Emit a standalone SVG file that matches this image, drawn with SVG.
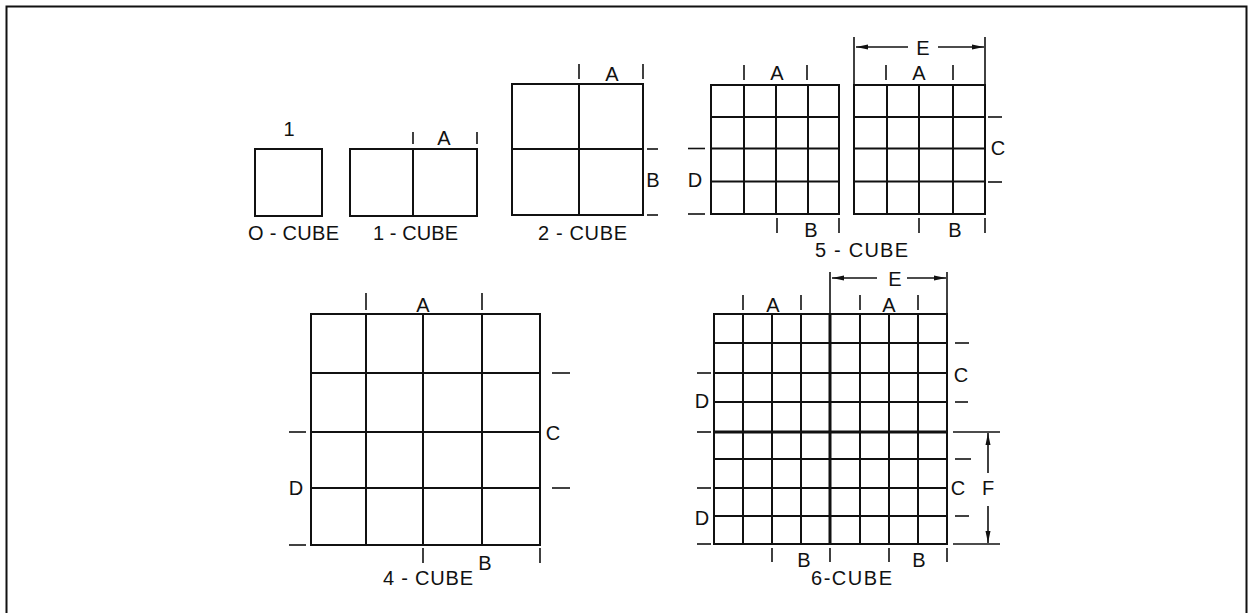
<svg xmlns="http://www.w3.org/2000/svg" width="1248" height="613" viewBox="0 0 1248 613">
<style>
.g{fill:none;stroke:#111;stroke-width:2}
.t{stroke:#111;stroke-width:1.6;fill:none}
.k{stroke:#111;stroke-width:3;fill:none}
text{font-family:"Liberation Sans",Arial,sans-serif;font-size:20px;fill:#111;text-anchor:middle}
</style>
<defs>
<marker id="ah" viewBox="0 0 12 6" refX="12" refY="3" markerWidth="12" markerHeight="6" markerUnits="userSpaceOnUse" orient="auto">
<path d="M0,0.5 L12,3 L0,5.5 z" fill="#111"/>
</marker>
</defs>
<rect width="1248" height="613" fill="#fff"/>
<path d="M6.5,613 V6.5 H1246.5 V613" fill="none" stroke="#111" stroke-width="2"/>

<g id="cube0">
<rect class="g" x="255" y="149" width="67" height="67"/>
<text x="289" y="136">1</text>
<text x="293.5" y="240" textLength="91" lengthAdjust="spacing">O - CUBE</text>
</g>

<g id="cube1">
<rect class="g" x="350" y="149" width="127" height="67"/>
<line class="g" x1="413" y1="149" x2="413" y2="216"/>
<line class="t" x1="413" y1="132" x2="413" y2="144"/>
<line class="t" x1="477" y1="132" x2="477" y2="144"/>
<text x="444" y="145">A</text>
<text x="415.5" y="240" textLength="85" lengthAdjust="spacing">1 - CUBE</text>
</g>

<g id="cube2">
<rect class="g" x="512" y="84" width="131" height="131"/>
<line class="g" x1="579" y1="84" x2="579" y2="215"/>
<line class="g" x1="512" y1="149" x2="643" y2="149"/>
<line class="t" x1="579" y1="64" x2="579" y2="79"/>
<line class="t" x1="643" y1="64" x2="643" y2="79"/>
<text x="612" y="81">A</text>
<line class="t" x1="647" y1="149" x2="658" y2="149"/>
<line class="t" x1="647" y1="215" x2="658" y2="215"/>
<text x="653" y="187">B</text>
<text x="582.5" y="240" textLength="89" lengthAdjust="spacing">2 - CUBE</text>
</g>

<g id="cube5">
<rect class="g" x="711" y="85" width="128" height="129"/>
<path class="g" d="M744,85V214 M776,85V214 M808,85V214 M711,117H839 M711,148.5H839 M711,181.5H839"/>
<line class="t" x1="744" y1="65" x2="744" y2="80"/>
<line class="t" x1="807" y1="65" x2="807" y2="80"/>
<text x="777" y="80">A</text>
<line class="t" x1="688" y1="148.5" x2="705" y2="148.5"/>
<line class="t" x1="688" y1="214" x2="705" y2="214"/>
<text x="695" y="187">D</text>
<line class="t" x1="777" y1="218" x2="777" y2="233"/>
<line class="t" x1="839" y1="218" x2="839" y2="233"/>
<text x="811" y="237">B</text>

<rect class="g" x="854" y="85" width="131" height="129"/>
<path class="g" d="M887,85V214 M919,85V214 M953,85V214 M854,117H985 M854,148.5H985 M854,181.5H985"/>
<line class="t" x1="886" y1="65" x2="886" y2="80"/>
<line class="t" x1="953" y1="65" x2="953" y2="80"/>
<text x="919" y="80">A</text>
<line class="t" x1="988" y1="117" x2="1002" y2="117"/>
<line class="t" x1="988" y1="182" x2="1002" y2="182"/>
<text x="998" y="155">C</text>
<line class="t" x1="919" y1="218" x2="919" y2="233"/>
<line class="t" x1="985" y1="218" x2="985" y2="233"/>
<text x="955" y="237">B</text>
<line class="t" x1="854" y1="37" x2="854" y2="85"/>
<line class="t" x1="985" y1="37" x2="985" y2="85"/>
<text x="923" y="55">E</text>
<text x="861.5" y="257" textLength="93" lengthAdjust="spacing">5 - CUBE</text>
</g>

<g id="cube4">
<rect class="g" x="311" y="314" width="229" height="231"/>
<path class="g" d="M366,314V545 M423,314V545 M482,314V545 M311,373H540 M311,432H540 M311,488H540"/>
<line class="t" x1="366" y1="293" x2="366" y2="310"/>
<line class="t" x1="482" y1="293" x2="482" y2="310"/>
<text x="423" y="312">A</text>
<line class="t" x1="552" y1="373" x2="570" y2="373"/>
<line class="t" x1="552" y1="488" x2="570" y2="488"/>
<text x="553" y="440">C</text>
<line class="t" x1="289" y1="432" x2="306" y2="432"/>
<line class="t" x1="289" y1="545" x2="306" y2="545"/>
<text x="296" y="495">D</text>
<line class="t" x1="423" y1="548" x2="423" y2="563"/>
<line class="t" x1="540" y1="548" x2="540" y2="563"/>
<text x="485" y="570">B</text>
<text x="428" y="585" textLength="90" lengthAdjust="spacing">4 - CUBE</text>
</g>

<g id="cube6">
<rect class="g" x="714" y="314" width="233" height="230"/>
<path class="g" d="M743,314V544 M772,314V544 M801,314V544 M860,314V544 M889,314V544 M918,314V544 M714,343H947 M714,373H947 M714,402H947 M714,459H947 M714,488H947 M714,516H947"/>
<path class="k" d="M830,314V544 M714,432H947"/>
<line class="t" x1="743" y1="295" x2="743" y2="310"/>
<line class="t" x1="801" y1="295" x2="801" y2="310"/>
<line class="t" x1="860" y1="295" x2="860" y2="310"/>
<line class="t" x1="918" y1="295" x2="918" y2="310"/>
<text x="773" y="312">A</text>
<text x="889" y="312">A</text>
<line class="t" x1="830" y1="272" x2="830" y2="314"/>
<line class="t" x1="947" y1="272" x2="947" y2="314"/>
<text x="895" y="286">E</text>
<line class="t" x1="955" y1="343" x2="969" y2="343"/>
<line class="t" x1="955" y1="402" x2="968" y2="402"/>
<line class="t" x1="955" y1="459" x2="971" y2="459"/>
<line class="t" x1="955" y1="516" x2="969" y2="516"/>
<line class="t" x1="953" y1="432" x2="1000" y2="432"/>
<line class="t" x1="953" y1="544" x2="1000" y2="544"/>
<text x="961" y="382">C</text>
<text x="958" y="495">C</text>
<text x="988" y="495">F</text>
<line class="t" x1="697" y1="373" x2="711" y2="373"/>
<line class="t" x1="697" y1="432" x2="711" y2="432"/>
<line class="t" x1="697" y1="488" x2="711" y2="488"/>
<line class="t" x1="697" y1="544" x2="711" y2="544"/>
<text x="702" y="408">D</text>
<text x="702" y="525">D</text>
<line class="t" x1="772" y1="548" x2="772" y2="562"/>
<line class="t" x1="830" y1="548" x2="830" y2="562"/>
<line class="t" x1="889" y1="548" x2="889" y2="562"/>
<line class="t" x1="947" y1="548" x2="947" y2="562"/>
<text x="804" y="567">B</text>
<text x="919" y="567">B</text>
<text x="851.5" y="585" textLength="81" lengthAdjust="spacing">6-CUBE</text>
</g>

<g id="connectors">
<line class="t" x1="908" y1="47" x2="856" y2="47" marker-end="url(#ah)"/>
<line class="t" x1="938" y1="47" x2="984" y2="47" marker-end="url(#ah)"/>
<line class="t" x1="877" y1="278" x2="832" y2="278" marker-end="url(#ah)"/>
<line class="t" x1="907" y1="278" x2="946" y2="278" marker-end="url(#ah)"/>
<line class="t" x1="988" y1="473" x2="988" y2="433" marker-end="url(#ah)"/>
<line class="t" x1="988" y1="506" x2="988" y2="543" marker-end="url(#ah)"/>
</g>
</svg>
